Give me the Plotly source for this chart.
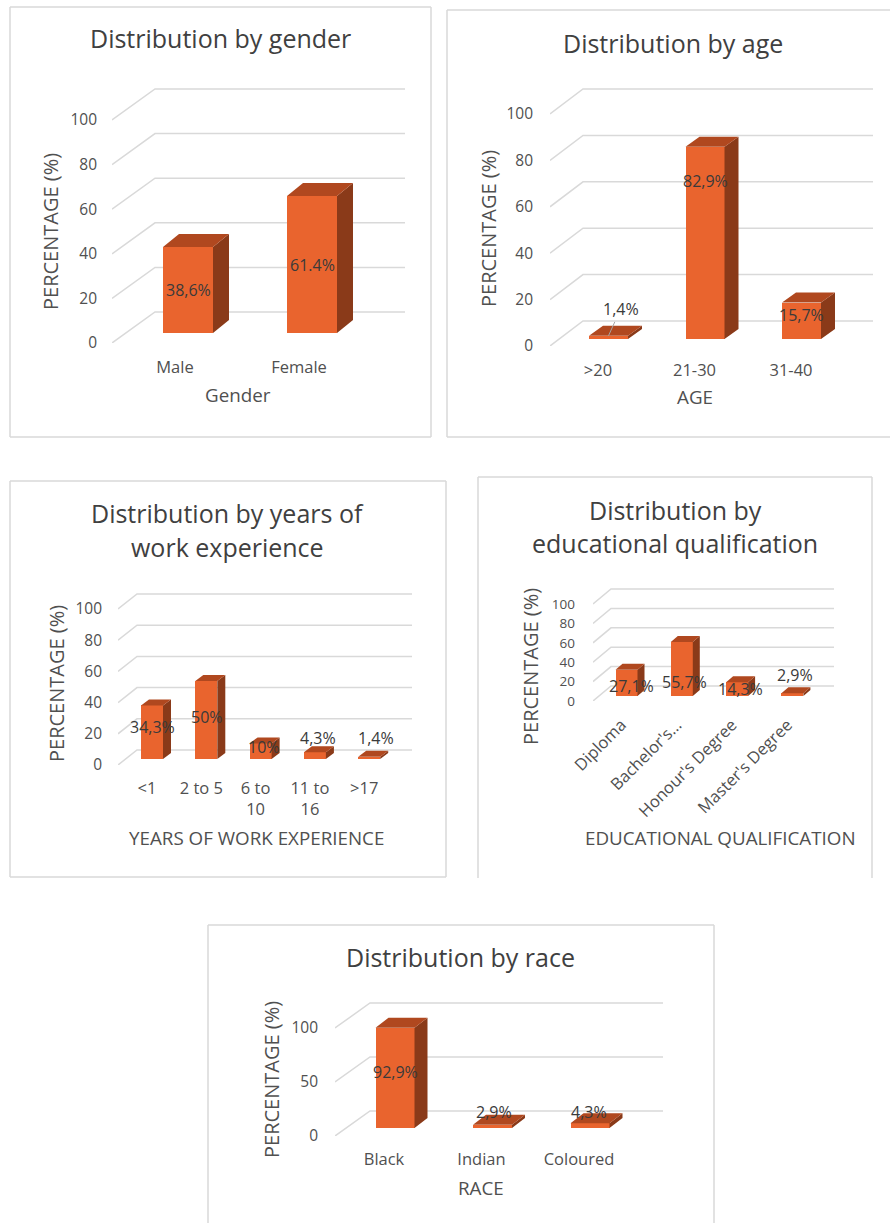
import plotly.graph_objects as go

W_PX, H_PX = 890, 1223

# ---------------- data ----------------
gender_cats = ["Male", "Female"]
gender_vals = [38.6, 61.4]
gender_labels = ["38,6%", "61.4%"]

age_cats = [">20", "21-30", "31-40"]
age_vals = [1.4, 82.9, 15.7]
age_labels = ["1,4%", "82,9%", "15,7%"]

exp_cats = ["<1", "2 to 5", "6 to<br>10", "11 to<br>16", ">17"]
exp_vals = [34.3, 50, 10, 4.3, 1.4]
exp_labels = ["34,3%", "50%", "10%", "4,3%", "1,4%"]

edu_cats = ["Diploma", "Bachelor's…", "Honour's Degree", "Master's Degree"]
edu_vals = [27.1, 55.7, 14.3, 2.9]
edu_labels = ["27,1%", "55,7%", "14,3%", "2,9%"]

race_cats = ["Black", "Indian", "Coloured"]
race_vals = [92.9, 2.9, 4.3]
race_labels = ["92,9%", "2,9%", "4,3%"]

ticks_20 = [0, 20, 40, 60, 80, 100]
ticks_50 = [0, 50, 100]

# ---------------- style ----------------
FONT = "Open Sans"
C_FRONT = "#E9642E"
C_TOP = "#B0481F"
C_SIDE = "#8A3A19"
C_GRID = "#D9D9D9"
C_TEXT = "#505050"
C_TITLE = "#404040"
C_LABEL = "#3A3A3A"
C_BORDER = "#D9D9D9"
TITLE_SIZE = 25
XTITLE_SIZE = 18.8
YTITLE_SIZE = 20
XTICK_SIZE = 16.5
LABEL_SIZE = 16


def px_x(p):
    return p / W_PX


def px_y(p):
    return 1 - p / H_PX


fig = go.Figure()
annotations = []
shapes = []


def add_chart(n, cats, vals, labels, ticks, g):
    xa = "x" if n == 1 else f"x{n}"
    ya = "y" if n == 1 else f"y{n}"
    FX, FY, k, XR = g["FX"], g["FY"], g["k"], g["XR"]
    C0, S = g["C0"], g["S"]
    top_px = FY - max(ticks) * k - g["gdy"] - 4
    x0 = (FX - C0) / S
    x1 = (XR - C0) / S
    yr1 = (FY - top_px) / k

    xkey = "xaxis" if n == 1 else f"xaxis{n}"
    ykey = "yaxis" if n == 1 else f"yaxis{n}"
    fig.update_layout(**{
        xkey: dict(domain=[px_x(FX), px_x(XR)], range=[x0, x1], anchor=ya,
                   tickmode="array", tickvals=list(range(len(cats))), ticktext=cats,
                   showgrid=False, zeroline=False, showline=False, ticks="",
                   tickangle=g.get("tickangle", 0),
                   tickfont=dict(family=FONT, size=XTICK_SIZE, color=C_TEXT),
                   ticklabelstandoff=g["xstand"], automargin=False, fixedrange=True),
        ykey: dict(domain=[px_y(FY), px_y(top_px)], range=[0, yr1], anchor=xa,
                   tickmode="array", tickvals=ticks,
                   showgrid=False, zeroline=False, showline=False, ticks="",
                   tickfont=dict(family=FONT, size=g.get("ytsize", 15.5), color=C_TEXT),
                   ticklabelstandoff=g["ystand"], automargin=False, fixedrange=True),
    })

    # perspective gridlines (front diagonal + back wall), drawn below the bars
    for t in ticks:
        xa0, xa1 = x0, x0 + g["gdx"] / S
        yb = t + g["gdy"] / k
        shapes.append(dict(type="path", xref=xa, yref=ya, layer="below",
                           path=f"M {xa0},{t} L {xa1},{yb} L {x1},{yb}",
                           line=dict(color=C_GRID, width=1.5)))

    base = g["bdy"] / k
    hw = g["W"] / 2 / S
    ddx = g["ddx"] / S
    ddy = g["ddy"] / k
    centers = [i + g["bdx"] / S for i in range(len(vals))]

    # side and top faces
    sx, sy, tx, ty = [], [], [], []
    for c, v in zip(centers, vals):
        top = base + v
        xr, xl = c + hw, c - hw
        sx += [xr, xr, xr + ddx, xr + ddx, xr, None]
        sy += [base, top, top + ddy, base + ddy, base, None]
        tx += [xl, xr, xr + ddx, xl + ddx, xl, None]
        ty += [top, top, top + ddy, top + ddy, top, None]
    fig.add_trace(go.Scatter(x=sx, y=sy, mode="lines", fill="toself", fillcolor=C_SIDE,
                             line=dict(width=0, color=C_SIDE), xaxis=xa, yaxis=ya,
                             hoverinfo="skip", showlegend=False, cliponaxis=False))
    fig.add_trace(go.Scatter(x=tx, y=ty, mode="lines", fill="toself", fillcolor=C_TOP,
                             line=dict(width=0, color=C_TOP), xaxis=xa, yaxis=ya,
                             hoverinfo="skip", showlegend=False, cliponaxis=False))
    # front faces
    fig.add_trace(go.Bar(x=centers, y=vals, base=base, width=g["W"] / S,
                         marker=dict(color=C_FRONT, line=dict(width=0)),
                         xaxis=xa, yaxis=ya, hoverinfo="skip", showlegend=False,
                         cliponaxis=False))

    # data labels
    for i, (c, v, lab) in enumerate(zip(centers, vals, labels)):
        xs, ys = g["lshift"][i]
        if i in g.get("leader", []):
            annotations.append(dict(x=c, y=base + v, xref=xa, yref=ya, text=lab,
                                    showarrow=True, arrowhead=0, arrowwidth=1,
                                    arrowcolor="#A6A6A6", standoff=0,
                                    ax=xs, ay=-(ys - v * k / 2),
                                    font=dict(family=FONT, size=LABEL_SIZE, color=C_LABEL)))
        else:
            annotations.append(dict(x=c, y=base + v / 2, xref=xa, yref=ya, text=lab,
                                    showarrow=False, xshift=xs, yshift=ys,
                                    font=dict(family=FONT, size=LABEL_SIZE, color=C_LABEL)))

    # titles
    for (tx_, ty_), line in zip(g["title_pos"], g["title"]):
        annotations.append(dict(x=px_x(tx_), y=px_y(ty_), xref="paper", yref="paper",
                                text=line, showarrow=False, xanchor="center",
                                yanchor="middle",
                                font=dict(family=FONT, size=TITLE_SIZE, color=C_TITLE)))
    annotations.append(dict(x=px_x(g["xt"][0]), y=px_y(g["xt"][1]), xref="paper",
                            yref="paper", text=g["xtitle"], showarrow=False,
                            xanchor="center", yanchor="middle",
                            font=dict(family=FONT, size=XTITLE_SIZE, color=C_TEXT)))
    annotations.append(dict(x=px_x(g["yt"][0]), y=px_y(g["yt"][1]), xref="paper",
                            yref="paper", text="PERCENTAGE (%)", showarrow=False,
                            textangle=-90, xanchor="center", yanchor="middle",
                            font=dict(family=FONT, size=YTITLE_SIZE, color=C_TEXT)))


add_chart(1, gender_cats, gender_vals, gender_labels, ticks_20, dict(
    FX=112, FY=343, k=2.23, XR=405, gdx=43, gdy=31, C0=175, S=124,
    W=50, bdx=13, bdy=10, ddx=16, ddy=13, ystand=14, xstand=12,
    lshift=[(0, 0), (0, 0)],
    title=["Distribution by gender"], title_pos=[(220, 38)],
    xtitle="Gender", xt=(238, 395), yt=(50, 232)))

add_chart(2, age_cats, age_vals, age_labels, ticks_20, dict(
    FX=550, FY=346, k=2.32, XR=873, gdx=33, gdy=25, C0=598, S=96.5,
    W=39, bdx=10.5, bdy=7, ddx=14, ddy=10, ystand=16, xstand=12,
    lshift=[(12, 28), (0, 62), (0, 6)], leader=[0],
    title=["Distribution by age"], title_pos=[(673, 43)],
    xtitle="AGE", xt=(695, 397), yt=(488, 229)))

add_chart(3, exp_cats, exp_vals, exp_labels, ticks_20, dict(
    FX=118, FY=765, k=1.56, XR=412, gdx=19, gdy=15, C0=147, S=54.3,
    W=22, bdx=5, bdy=6, ddx=8, ddy=6, ystand=15, xstand=11,
    lshift=[(0, 5), (1, 3), (3, 4), (3, 18), (7, 20)],
    title=["Distribution by years of", "work experience"],
    title_pos=[(227, 513), (227, 547)],
    xtitle="YEARS OF WORK EXPERIENCE", xt=(256, 838), yt=(56, 684)))

add_chart(4, edu_cats, edu_vals, edu_labels, ticks_20, dict(
    FX=593, FY=701, k=0.97, XR=834, gdx=18, gdy=15, C0=621.5, S=55.3,
    W=22, bdx=5, bdy=5, ddx=7, ddy=6, ystand=17, xstand=10, tickangle=-45,
    ytsize=13.5,
    lshift=[(5, -3), (3, -13), (3, 0), (3, 20)],
    title=["Distribution by", "educational qualification"],
    title_pos=[(675, 510), (675, 543)],
    xtitle="EDUCATIONAL QUALIFICATION", xt=(720, 838), yt=(530, 667)))

add_chart(5, race_cats, race_vals, race_labels, ticks_50, dict(
    FX=335, FY=1136, k=1.08, XR=663, gdx=35, gdy=25, C0=384, S=97.5,
    W=39, bdx=11, bdy=8, ddx=13, ddy=10, ystand=16, xstand=11,
    lshift=[(0, 6), (1, 14), (-1, 14)],
    title=["Distribution by race"], title_pos=[(460, 957)],
    xtitle="RACE", xt=(481, 1188), yt=(271, 1080)))


# panel borders
def panel(x0, y0, x1, y1, sides="ltrb"):
    segs = {"l": (x0, y0, x0, y1), "t": (x0, y0, x1, y0),
            "r": (x1, y0, x1, y1), "b": (x0, y1, x1, y1)}
    for s in sides:
        a, b, c, d = segs[s]
        shapes.append(dict(type="line", xref="paper", yref="paper",
                           x0=px_x(a), y0=px_y(b), x1=px_x(c), y1=px_y(d),
                           line=dict(color=C_BORDER, width=1.5)))


panel(10, 7, 431, 437)
panel(447, 10, 900, 437, "ltb")
panel(10, 481, 446, 877)
panel(478, 477, 872, 878, "ltr")
panel(208, 925, 714, 1230, "ltr")

fig.update_layout(
    width=W_PX, height=H_PX, margin=dict(l=0, r=0, t=0, b=0),
    paper_bgcolor="white", plot_bgcolor="rgba(0,0,0,0)",
    showlegend=False, hovermode=False, bargap=0,
    annotations=annotations, shapes=shapes,
)

fig.write_html("out.html", config={"displayModeBar": False})
